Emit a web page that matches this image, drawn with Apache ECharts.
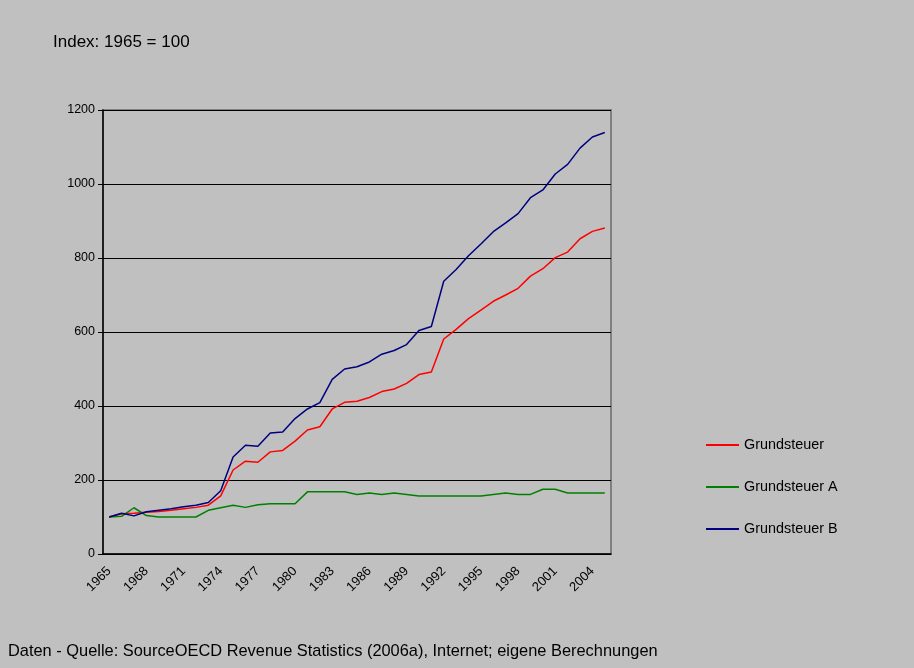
<!DOCTYPE html>
<html>
<head>
<meta charset="utf-8">
<script src="https://cdn.jsdelivr.net/npm/echarts@6/dist/echarts.min.js"></script>
<style>
html,body{margin:0;padding:0;background:#C0C0C0;}
#c{width:914px;height:668px;}
</style>
</head>
<body>
<div id="c"></div>
<script>
const years = [];
for (let y = 1965; y <= 2005; y++) years.push(String(y));

const grundsteuer = [100,109,110,113,115,118,122,126,132,157,227,251,248,276,280,305,335,344,392,410,413,423,439,446,461,485,492,581,607,636,659,683,700,718,751,771,801,816,852,872,881];
const grundsteuerA = [100,102,125,104,100,100,100,100,118,125,132,126,133,136,136,136,168,168,168,168,161,165,161,165,161,157,157,157,157,157,157,161,165,161,161,175,175,165,165,165,165];
const grundsteuerB = [100,110,103,114,118,122,128,132,139,171,262,294,291,327,330,366,392,409,472,500,506,519,540,550,566,604,615,737,769,806,838,871,895,920,963,984,1027,1053,1097,1127,1139];

const seriesNames = ['Grundsteuer','Grundsteuer A','Grundsteuer B'];
const titleText = 'Index: 1965 = 100';
const footerText = 'Daten - Quelle: SourceOECD Revenue Statistics (2006a), Internet; eigene Berechnungen';

const FONT = '"Liberation Sans", Arial, sans-serif';
const chart = echarts.init(document.getElementById('c'), null, {renderer:'canvas'});
chart.setOption({
  backgroundColor: '#C0C0C0',
  animation: false,
  textStyle: {fontFamily: FONT, color: '#000'},
  title: [
    {text: titleText, left: 53, top: 34, padding: 0, textStyle: {fontFamily: FONT, fontSize: 17, fontWeight: 'normal', color: '#000'}},
    {text: footerText, left: 8, top: 643, padding: 0, textStyle: {fontFamily: FONT, fontSize: 16.4, fontWeight: 'normal', color: '#000'}}
  ],
  legend: {
    orient: 'vertical',
    left: 706,
    top: 438,
    padding: 0,
    itemWidth: 33,
    itemHeight: 2,
    itemGap: 28,
    icon: 'rect',
    textStyle: {fontFamily: FONT, fontSize: 14.4, color: '#000'},
    data: seriesNames
  },
  grid: {
    left: 103, top: 110, right: 303, bottom: 114,
    show: true, borderColor: '#808080', borderWidth: 2, backgroundColor: '#C0C0C0'
  },
  xAxis: {
    type: 'category',
    data: years,
    boundaryGap: true,
    axisLine: {lineStyle: {color: '#000', width: 1.5}},
    axisTick: {interval: 0, length: 5, lineStyle: {color: '#000'}},
    axisLabel: {interval: 2, rotate: 45, fontFamily: FONT, fontSize: 13, color: '#000', margin: 15}
  },
  yAxis: {
    type: 'value',
    min: 0, max: 1200, interval: 200,
    axisLine: {show: true, lineStyle: {color: '#000', width: 1.5}},
    axisTick: {show: true, length: 5, lineStyle: {color: '#000'}},
    axisLabel: {fontFamily: FONT, fontSize: 12.5, color: '#000', margin: 8, formatter: v => String(v)},
    splitLine: {lineStyle: {color: '#000', width: 1.2}}
  },
  series: [
    {name: seriesNames[0], type: 'line', data: grundsteuer, symbol: 'none', lineStyle: {color: '#FF0000', width: 1.5}, itemStyle: {color: '#FF0000'}},
    {name: seriesNames[1], type: 'line', data: grundsteuerA, symbol: 'none', lineStyle: {color: '#008000', width: 1.5}, itemStyle: {color: '#008000'}},
    {name: seriesNames[2], type: 'line', data: grundsteuerB, symbol: 'none', lineStyle: {color: '#000080', width: 1.5}, itemStyle: {color: '#000080'}}
  ]
});
</script>
</body>
</html>
